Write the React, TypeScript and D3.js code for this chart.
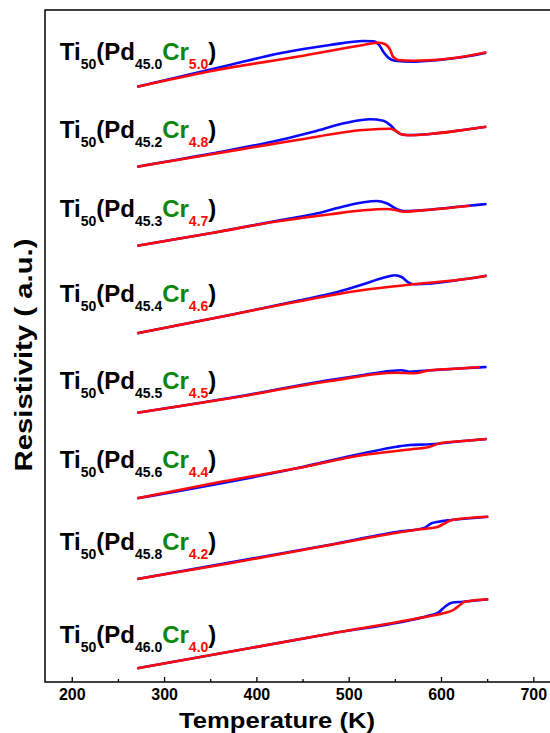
import React, { useRef, useEffect } from 'react';
import * as d3 from 'd3';

// x axis ticks (K)
const xTicks = [200, 300, 400, 500, 600, 700];
const xMinorTicks = [250, 350, 450, 550, 650];

// [temperature K, resistivity a.u. incl. stacking offset]
const cr50Blue = [[271, 59.53], [317, 60.53], [371, 61.7], [425.5, 62.87], [479.7, 63.7], [515.8, 64.1], [526.6, 64.07], [533, 63.7], [537.5, 63.03], [543, 62.43], [550, 62.13], [570, 62.03], [588, 62.13], [624, 62.5], [649, 62.93]];
const cr50Red = [[271, 59.53], [353, 61.13], [444, 62.53], [516, 63.7], [532, 63.93], [539, 63.8], [545, 63.2], [548, 62.53], [554, 62.2], [570, 62.13], [588, 62.17], [624, 62.53], [649, 62.97]];

const cr48Blue = [[271, 51.53], [353, 52.87], [425.5, 54.2], [461.6, 55.03], [497.7, 55.93], [523, 56.27], [537.5, 56.13], [545, 55.7], [552, 55.03], [559, 54.73], [570, 54.7], [588, 54.8], [624, 55.2], [649, 55.53]];
const cr48Red = [[271, 51.53], [353, 52.8], [444, 54.2], [516, 55.2], [545, 55.33], [552, 55.07], [557, 54.77], [564.5, 54.67], [588, 54.8], [624, 55.2], [649, 55.53]];

const cr47Blue = [[271, 43.63], [353.4, 44.93], [425.6, 46.17], [461.6, 46.77], [497.7, 47.63], [515.8, 47.97], [530.2, 48.1], [541.1, 47.87], [551.9, 47.3], [559.1, 47.1], [588, 47.23], [624.1, 47.57], [649.4, 47.8]];
const cr47Red = [[271, 43.63], [353.4, 44.93], [425.6, 46.1], [479.7, 46.77], [515.8, 47.17], [541.1, 47.3], [551.9, 47.17], [559.1, 47.03], [588, 47.23], [631.3, 47.63]];

const cr46Blue = [[271, 34.87], [371.4, 36.7], [443.6, 38.1], [486.9, 38.97], [515.8, 39.77], [537.5, 40.43], [550.1, 40.67], [557.3, 40.5], [564.5, 39.97], [571.8, 39.77], [624.1, 40.27], [649.4, 40.63]];
const cr46Red = [[271, 34.87], [371.4, 36.7], [443.6, 38.03], [515.8, 39.2], [570, 39.77], [624.1, 40.27], [649.4, 40.63]];

const cr45Blue = [[271, 26.93], [371.4, 28.4], [479.7, 30.2], [515.8, 30.7], [544.7, 31.1], [557.3, 31.17], [566.3, 31.03], [577.2, 31.1], [624.1, 31.37], [649.4, 31.5]];
const cr45Red = [[271, 26.93], [371.4, 28.37], [479.7, 30.1], [551.9, 30.93], [570, 30.87], [588, 31.17], [624.1, 31.37], [642.2, 31.5]];

const cr44Blue = [[271, 18.37], [443.6, 21.37], [515.8, 22.87], [551.9, 23.53], [566.3, 23.7], [588, 23.77], [606, 23.93], [624.1, 24.1], [649.4, 24.3]];
const cr44Red = [[271, 18.37], [353.4, 19.87], [443.6, 21.37], [515.8, 22.7], [570, 23.3], [588, 23.53], [598.8, 23.87], [624.1, 24.1], [649.4, 24.3]];

const cr42Blue = [[271, 10.3], [479.7, 13.73], [551.9, 15.0], [580.8, 15.37], [589.8, 15.87], [597, 16.03], [611.5, 16.2], [651.2, 16.53]];
const cr42Red = [[271, 10.3], [371.4, 11.87], [479.7, 13.7], [577.2, 15.27], [595.2, 15.47], [604.2, 15.87], [611.5, 16.2], [651.2, 16.53]];

const cr40Blue = [[271, 1.37], [479.7, 4.83], [588, 6.67], [597, 6.93], [604.2, 7.53], [611.5, 7.93], [624.1, 8.03], [651.2, 8.27]];
const cr40Red = [[271, 1.37], [479.7, 4.83], [588, 6.6], [602.4, 6.87], [613.3, 7.2], [620.5, 7.7], [625.9, 8.03], [651.2, 8.27]];

// label text parts, top to bottom
const pdSubs = ['45.0', '45.2', '45.3', '45.4', '45.5', '45.6', '45.8', '46.0'];
const crSubs = ['5.0', '4.8', '4.7', '4.6', '4.5', '4.4', '4.2', '4.0'];
const labelLevels = [62.2, 54.4, 46.5, 38.0, 29.3, 21.4, 13.2, 3.9];

const blueCurves = [cr50Blue, cr48Blue, cr47Blue, cr46Blue, cr45Blue, cr44Blue, cr42Blue, cr40Blue];
const redCurves = [cr50Red, cr48Red, cr47Red, cr46Red, cr45Red, cr44Red, cr42Red, cr40Red];

const FONT = '"Liberation Sans", Arial, sans-serif';

const ResistivityChart = () => {
  const ref = useRef<SVGSVGElement>(null);

  useEffect(() => {
    const svg = d3.select(ref.current);
    svg.selectAll('*').remove();

    const x = d3.scaleLinear().domain([171, 730]).range([45, 561]);
    const y = d3.scaleLinear().domain([0, 67.2]).range([682, 10]);

    // frame
    svg.append('rect')
      .attr('x', x(171)).attr('y', y(67.2))
      .attr('width', x(730) - x(171)).attr('height', y(0) - y(67.2))
      .attr('fill', 'none').attr('stroke', '#000').attr('stroke-width', 1.5);

    // bottom axis, inward ticks
    const axis = svg.append('g').attr('transform', `translate(0,${y(0)})`);
    axis.call(d3.axisBottom(x).tickValues(xTicks).tickSize(-5).tickPadding(7).tickFormat(d3.format('d')))
      .call(g => g.select('.domain').remove());
    axis.selectAll('text')
      .attr('font-family', FONT).attr('font-weight', 'bold').attr('font-size', 16).attr('fill', '#000');
    axis.selectAll('line').attr('stroke-width', 1.3);
    svg.append('g').attr('transform', `translate(0,${y(0)})`)
      .call(d3.axisBottom(x).tickValues(xMinorTicks).tickSize(-3).tickFormat(() => ''))
      .call(g => g.select('.domain').remove())
      .selectAll('line').attr('stroke-width', 1.3);

    const line = d3.line<number[]>()
      .x(d => x(d[0]))
      .y(d => y(d[1]))
      .curve(d3.curveMonotoneX);

    blueCurves.forEach(c => {
      svg.append('path').datum(c).attr('d', line)
        .attr('fill', 'none').attr('stroke', '#0a0aff').attr('stroke-width', 2.6);
    });
    redCurves.forEach(c => {
      svg.append('path').datum(c).attr('d', line)
        .attr('fill', 'none').attr('stroke', '#ff0a0a').attr('stroke-width', 2.6);
    });

    // composition labels
    pdSubs.forEach((pd, i) => {
      const t = svg.append('text')
        .attr('x', x(187)).attr('y', y(labelLevels[i]))
        .attr('font-family', FONT).attr('font-weight', 'bold').attr('font-size', 24).attr('fill', '#000');
      t.append('tspan').text('Ti');
      t.append('tspan').attr('font-size', 14).attr('dy', 8.5).text('50');
      t.append('tspan').attr('dy', -8.5).text('(Pd');
      t.append('tspan').attr('font-size', 14).attr('dy', 8.5).text(pd);
      t.append('tspan').attr('dy', -8.5).attr('fill', '#0b870b').text('Cr');
      t.append('tspan').attr('font-size', 14).attr('dy', 8.5).attr('fill', '#ff0a0a').text(crSubs[i]);
      t.append('tspan').attr('dy', -8.5).text(')');
    });

    // axis titles
    svg.append('text')
      .attr('x', 277).attr('y', 728)
      .attr('text-anchor', 'middle')
      .attr('font-family', FONT).attr('font-weight', 'bold').attr('font-size', 22)
      .attr('textLength', 196).attr('lengthAdjust', 'spacingAndGlyphs')
      .text('Temperature (K)');

    svg.append('text')
      .attr('transform', 'translate(32,355) rotate(-90)')
      .attr('text-anchor', 'middle')
      .attr('font-family', FONT).attr('font-weight', 'bold').attr('font-size', 24)
      .attr('textLength', 233).attr('lengthAdjust', 'spacingAndGlyphs')
      .text('Resistivity ( a.u.)');
  }, []);

  return (
    <svg ref={ref} width={550} height={733}
      style={{ position: 'absolute', left: 0, top: 0, background: '#fff' }} />
  );
};

export default function App() {
  return <ResistivityChart />;
}
